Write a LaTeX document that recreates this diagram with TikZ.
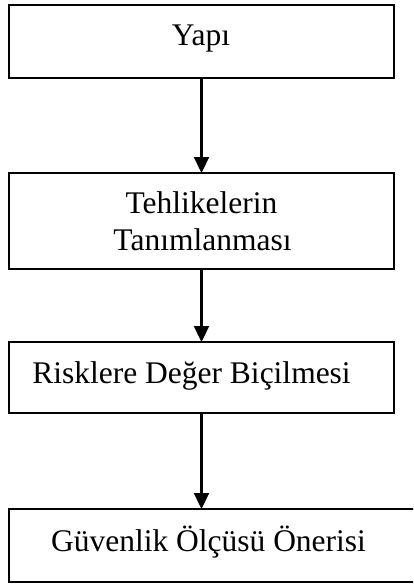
\documentclass[tikz,border=0pt]{standalone}
\usepackage{fontspec}
\setmainfont{Liberation Serif}
\usetikzlibrary{arrows.meta}
\begin{document}
\begin{tikzpicture}[x=1pt,y=-1pt,
  stage/.style={draw=black,line width=2pt,minimum width=385pt,inner sep=0pt,outer sep=0pt},
  caption/.style={anchor=base,inner sep=0pt,font=\fontsize{31.5}{37}\selectfont},
  flow/.style={line width=2.3pt,-{Triangle[width=15pt,length=16pt]}}]
\useasboundingbox (0,0) rectangle (413,584);
\clip (0,0) rectangle (413,584);

% process boxes
\node[stage,minimum height=73pt] (b1) at (201.5,41.5) {};
\node[stage,minimum height=96pt] (b2) at (201.5,221) {};
\node[stage,minimum height=71pt] (b3) at (201.5,377.5) {};
\node[stage,minimum width=411pt,minimum height=73pt] (b4) at (214.5,545.5) {};

% box labels
\node[caption] (t1) at (201,45.7) {Yapı};
\node[caption] (t2a) at (201.5,213.3) {Tehlikelerin};
\node[caption] (t2b) at (202.5,250.7) {Tanımlanması};
\node[caption] (t3) at (191.5,383.3) {Risklere Değer Biçilmesi};
\node[caption] (t4) at (208.5,551.7) {Güvenlik Ölçüsü Önerisi};

% connectors
\draw[flow] (b1.south) -- (b2.north);
\draw[flow] (b2.south) -- (b3.north);
\draw[flow] (b3.south) -- (b3.south |- b4.north);
\end{tikzpicture}
\end{document}
